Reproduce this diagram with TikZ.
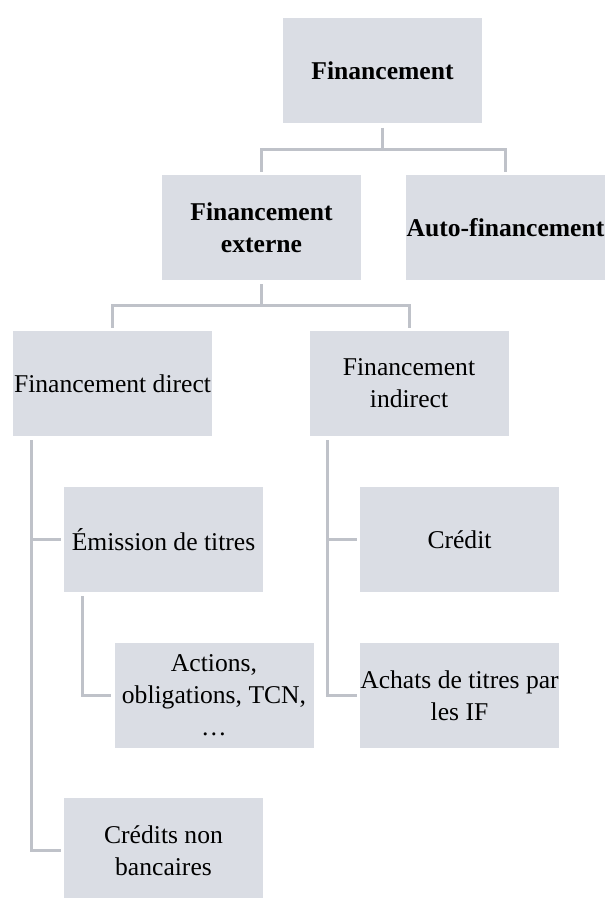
\documentclass[tikz,border=0pt]{standalone}
\usepackage{fontspec}
\setmainfont{Liberation Serif}
\usepackage{xcolor}
\usetikzlibrary{positioning}

\definecolor{boxfill}{HTML}{DADDE4}
\definecolor{linkgray}{HTML}{BFC2C9}

\begin{document}
\begin{tikzpicture}[
    x=0.5pt, y=-0.5pt,
    font=\fontsize{12.8}{16}\selectfont,
    catbox/.style={fill=boxfill, align=center, minimum width=99.5pt, minimum height=52.5pt, inner sep=0pt},
    headbox/.style={catbox, font=\fontsize{12.8}{16}\selectfont\bfseries},
    link/.style={draw=linkgray, line width=1.5pt, shorten <=2pt, shorten >=1.5pt}
  ]
    \clip (0,0) rectangle (608,898);

    \node[headbox] (fin) at (382.5,71) {Financement};
    \node[headbox] (ext) at (261.5,227.5) {Financement\\externe};
    \node[headbox] (auto) at (505.5,227.5) {Auto-financement};
    \node[catbox] (direct) at (112.5,383.5) {Financement direct};
    \node[catbox] (indirect) at (409,383.5) {Financement\\indirect};
    \node[catbox] (emission) at (163.5,539.5) {Émission de titres};
    \node[catbox] (actions) at (214,695.5) {Actions,\\obligations, TCN,\\…};
    \node[catbox] (cnb) at (163.5,850.5) {Crédits non\\bancaires};
    \node[catbox] (credit) at (459.5,539.5) {Crédit};
    \node[catbox] (achats) at (459.5,695.5) {Achats de titres par\\les IF};

    \draw[link] (fin.south) -- ++(0,26) -| (ext.north);
    \draw[link] (fin.south) -- ++(0,26) -| (auto.north);
    \draw[link] (ext.south) -- ++(0,25) -| (direct.north);
    \draw[link] (ext.south) -- ++(0,25) -| (indirect.north);

    \draw[link] ([xshift=9.5pt]direct.south west) |- (emission.west);
    \draw[link] ([xshift=9.5pt]direct.south west) |- (cnb.west);
    \draw[link] ([xshift=9.5pt]emission.south west) |- (actions.west);
    \draw[link] ([xshift=9pt]indirect.south west) |- (credit.west);
    \draw[link] ([xshift=9pt]indirect.south west) |- (achats.west);
  \end{tikzpicture}
\end{document}
